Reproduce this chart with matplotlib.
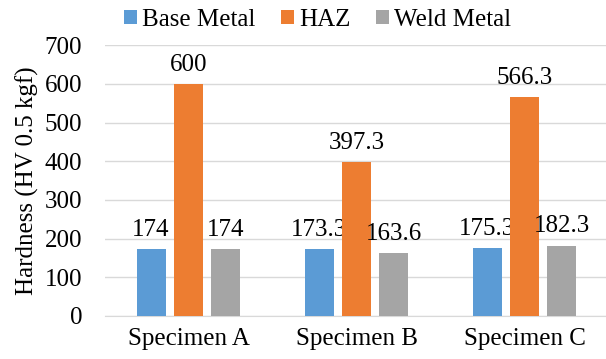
import matplotlib.pyplot as plt
import numpy as np

plt.rcParams['font.family'] = 'Liberation Serif'

categories = ['Specimen A', 'Specimen B', 'Specimen C']
series_names = ['Base Metal', 'HAZ', 'Weld Metal']
base_metal = [174, 173.3, 175.3]
haz = [600, 397.3, 566.3]
weld_metal = [174, 163.6, 182.3]
labels = [['174', '173.3', '175.3'], ['600', '397.3', '566.3'], ['174', '163.6', '182.3']]
colors = ['#5B9BD5', '#ED7D31', '#A5A5A5']

W, H = 606, 359
fig = plt.figure(figsize=(W / 100, H / 100), dpi=100)
# plot area in pixels: left 104.5, right ~608.5, top 45.3, bottom 316
ax = fig.add_axes([104.5 / W, 1 - 316 / H, 504 / W, 270.7 / H])

x = np.arange(len(categories))
width = 0.1726
step = 0.223
for i, (vals, name) in enumerate(zip([base_metal, haz, weld_metal], series_names)):
    bars = ax.bar(x + (i - 1) * step, vals, width, color=colors[i], label=name, zorder=3)
    for b, lab in zip(bars, labels[i]):
        ax.annotate(lab, (b.get_x() + b.get_width() / 2, b.get_height()),
                    xytext=(0, 9.4), textcoords='offset points',
                    ha='center', va='baseline', fontsize=18)

ax.set_xlim(-0.5, 2.5)
ax.set_ylim(0, 700)
ax.set_yticks(range(0, 701, 100))
ax.set_xticks(x)
ax.set_xticklabels(categories)
ax.tick_params(axis='both', length=0, labelsize=18)
ax.tick_params(axis='x', pad=9)
ax.tick_params(axis='y', pad=16)
ax.grid(axis='y', color='#D9D9D9', linewidth=1, zorder=0)
for s in ['top', 'right', 'left']:
    ax.spines[s].set_visible(False)
ax.spines['bottom'].set_color('#D9D9D9')
ax.spines['bottom'].set_zorder(1)
ax.set_ylabel('Hardness (HV 0.5 kgf)', fontsize=18, labelpad=4)

fig.legend(loc='center', bbox_to_anchor=(0.524, 1 - 20 / H), ncol=3,
           frameon=False, fontsize=18, handlelength=0.52, handleheight=0.52,
           handletextpad=0.19, columnspacing=1.04, borderpad=0)

fig.savefig('out.png', dpi=100)
